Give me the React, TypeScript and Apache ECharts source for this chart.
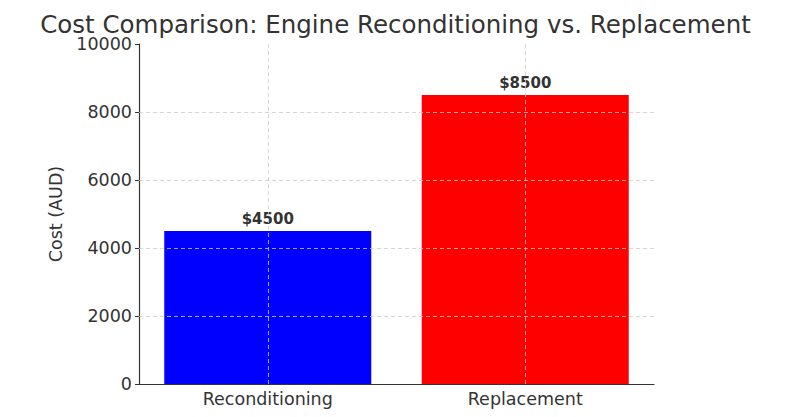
import React, { useEffect, useRef } from "react";
import * as echarts from "echarts";

const categories = ["Reconditioning", "Replacement"];
const costs = [4500, 8500];
const barColors = ["#0000ff", "#ff0000"];
const gridValues = [2000, 4000, 6000, 8000];
const titleText = "Cost Comparison: Engine Reconditioning vs. Replacement";
const yAxisName = "Cost (AUD)";

const FONT = "DejaVu Sans";
const TEXT = "#333333";

export default function App() {
  const ref = useRef<HTMLDivElement>(null);
  useEffect(() => {
    if (!ref.current) return;
    const chart = echarts.init(ref.current, undefined, { renderer: "svg" });
    const gridLineStyle = { color: "#cccccc", type: [4, 3] as any, width: 0.8 };
    chart.setOption({
      animation: false,
      backgroundColor: "#ffffff",
      title: {
        text: titleText,
        left: "center",
        top: 7,
        textStyle: { fontFamily: FONT, fontSize: 24.5, fontWeight: "normal", color: TEXT },
      },
      grid: { left: 139, right: 137, top: 44, bottom: 33 },
      xAxis: {
        type: "category",
        data: categories,
        axisLine: { lineStyle: { color: TEXT, width: 1.2 } },
        axisTick: { alignWithLabel: true, length: 4, lineStyle: { color: TEXT } },
        axisLabel: { fontFamily: FONT, fontSize: 17.5, color: TEXT, margin: 6 },
        splitLine: { show: false },
      },
      yAxis: {
        type: "value",
        min: 0,
        max: 10000,
        interval: 2000,
        name: yAxisName,
        nameLocation: "middle",
        nameGap: 72,
        nameTextStyle: { fontFamily: FONT, fontSize: 17.5, color: TEXT },
        axisLine: { show: true, lineStyle: { color: TEXT, width: 1.2 } },
        axisTick: { show: true, length: 4, lineStyle: { color: TEXT } },
        axisLabel: {
          fontFamily: FONT,
          fontSize: 17.5,
          color: TEXT,
          margin: 7,
          formatter: (v: number) => String(v),
        },
        splitLine: { show: false },
      },
      series: [
        {
          type: "bar",
          barWidth: 207,
          data: costs.map((v, i) => ({ value: v, itemStyle: { color: barColors[i] } })),
          label: {
            show: true,
            position: "top",
            distance: 5,
            formatter: (p: any) => "$" + p.value,
            fontFamily: FONT,
            fontSize: 15,
            fontWeight: "bold",
            color: TEXT,
          },
          markLine: {
            silent: true,
            symbol: ["none", "none"],
            label: { show: false },
            lineStyle: gridLineStyle,
            z: 10,
            data: [
              ...categories.map((c) => ({ xAxis: c })),
              ...gridValues.map((v) => ({ yAxis: v })),
            ],
          },
        },
      ],
    });
    return () => chart.dispose();
  }, []);
  return <div ref={ref} style={{ width: 791, height: 417, position: "absolute", left: 0, top: 0 }} />;
}
